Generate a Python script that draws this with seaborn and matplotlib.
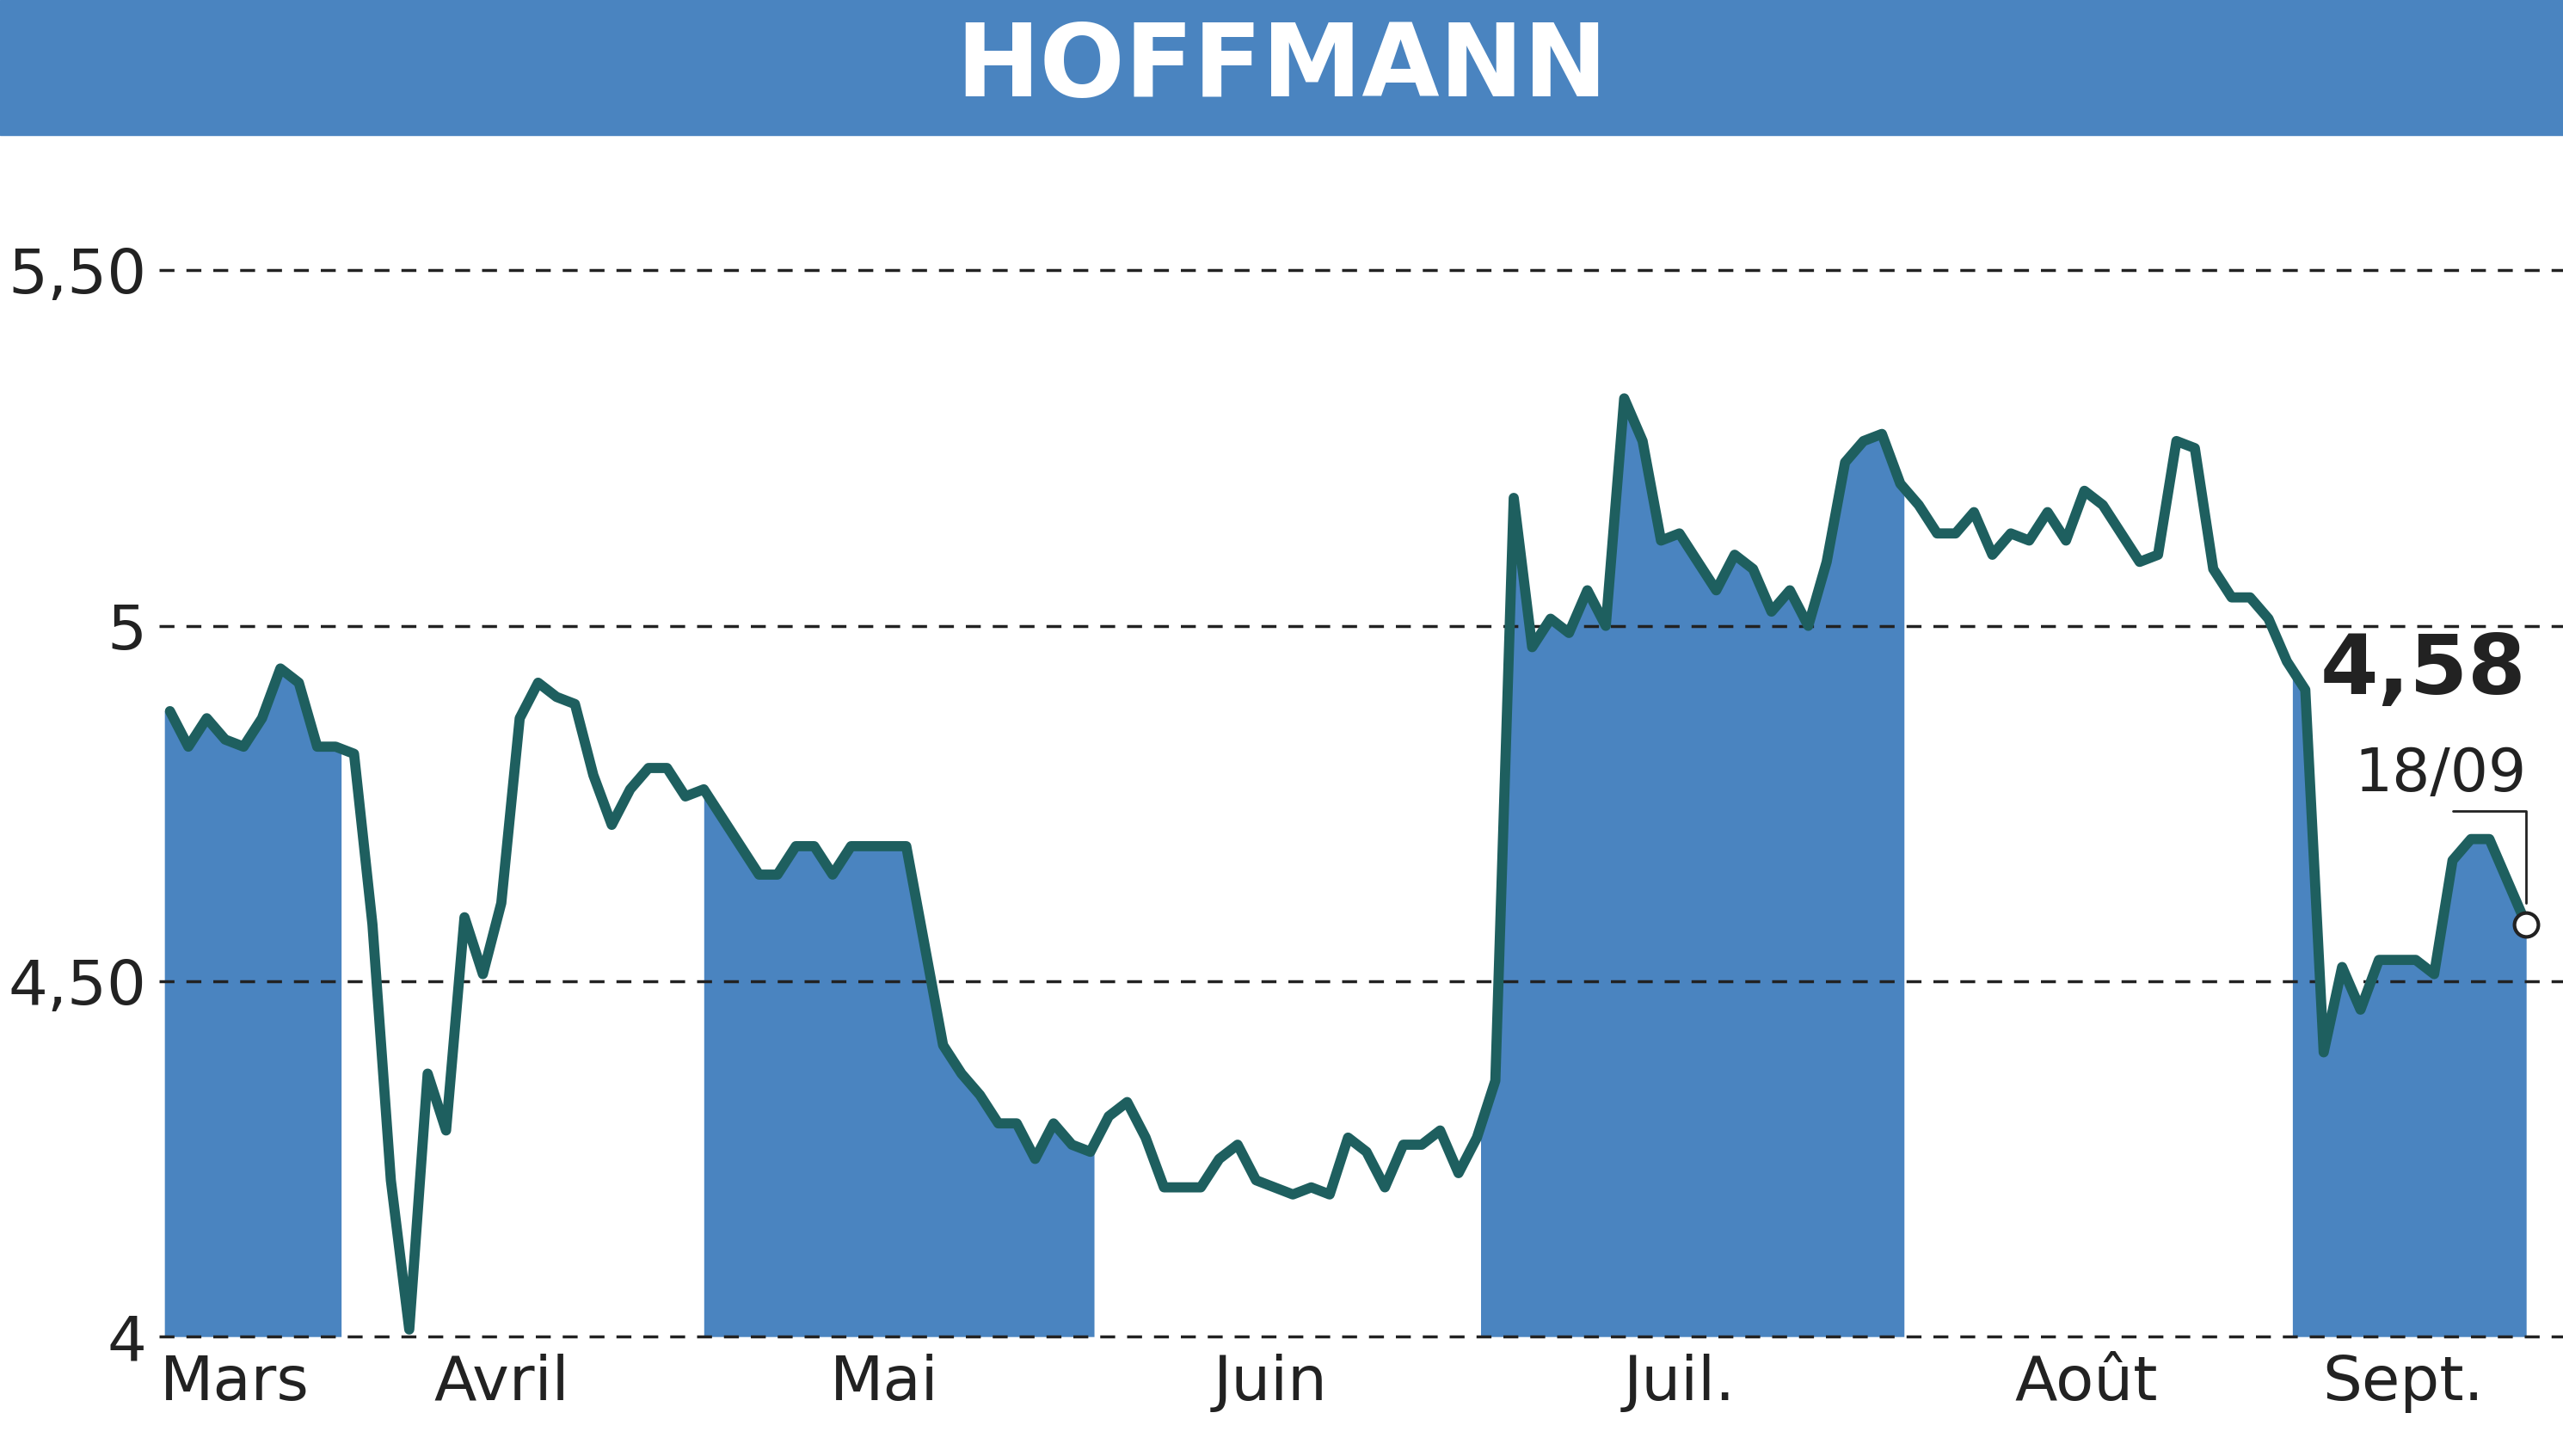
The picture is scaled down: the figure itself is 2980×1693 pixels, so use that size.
import numpy as np
import pandas as pd
import seaborn as sns
import matplotlib.pyplot as plt

prices = [4.88, 4.83, 4.87, 4.84, 4.83, 4.87, 4.94, 4.92, 4.83, 4.83, 4.82, 4.58, 4.22, 4.01, 4.37,
          4.29, 4.59, 4.51, 4.61, 4.87, 4.92, 4.90, 4.89, 4.79, 4.72, 4.77, 4.80, 4.80, 4.76, 4.77,
          4.73, 4.69, 4.65, 4.65, 4.69, 4.69, 4.65, 4.69, 4.69, 4.69, 4.69, 4.55, 4.41, 4.37, 4.34,
          4.30, 4.30, 4.25, 4.30, 4.27, 4.26, 4.31, 4.33, 4.28, 4.21, 4.21, 4.21, 4.25, 4.27, 4.22,
          4.21, 4.20, 4.21, 4.20, 4.28, 4.26, 4.21, 4.27, 4.27, 4.29, 4.23, 4.28, 4.36, 5.18, 4.97,
          5.01, 4.99, 5.05, 5.00, 5.32, 5.26, 5.12, 5.13, 5.09, 5.05, 5.10, 5.08, 5.02, 5.05, 5.00,
          5.09, 5.23, 5.26, 5.27, 5.20, 5.17, 5.13, 5.13, 5.16, 5.10, 5.13, 5.12, 5.16, 5.12, 5.19,
          5.17, 5.13, 5.09, 5.10, 5.26, 5.25, 5.08, 5.04, 5.04, 5.01, 4.95, 4.91, 4.40, 4.52, 4.46,
          4.53, 4.53, 4.53, 4.51, 4.67, 4.70, 4.70, 4.64, 4.58]
months = ['Mars', 'Avril', 'Mai', 'Juin', 'Juil.', 'Août', 'Sept.']
# month boundaries in trading-day index (start of each month)
month_starts = [-0.3, 9.3, 29.0, 50.2, 71.2, 94.2, 115.3]
shaded = [0, 2, 4, 6]
# label centres in trading-day index
label_pos = [3.5, 18.0, 38.8, 59.8, 82.0, 104.1, 121.3]
yticks = [4.0, 4.5, 5.0, 5.5]
ytick_labels = ['4', '4,50', '5', '5,50']

df = pd.DataFrame({'day': np.arange(len(prices)), 'price': prices})
n = len(prices)

sns.set_style('white')
plt.rcParams['font.family'] = ['DejaVu Sans']

blue = '#4a84c0'
line_c = '#1e5f5f'

fig = plt.figure(figsize=(29.8, 16.93), dpi=100)
# title bar
fig.patches.append(plt.Rectangle((0, 0.907), 1, 0.093, transform=fig.transFigure, color=blue, zorder=0))
fig.text(0.5, 0.953, 'HOFFMANN', color='white', fontsize=84, fontweight='bold', ha='center', va='center')

ax = fig.add_axes([0.062, 0.082, 0.938, 0.825])
ends = month_starts[1:] + [n - 1]
for m in shaded:
    a, b = month_starts[m], ends[m]
    xs = np.linspace(a, b, 200)
    ys = np.interp(xs, df['day'], df['price'])
    ax.fill_between(xs, 4.0, ys, color=blue, lw=0, zorder=1)

sns.lineplot(data=df, x='day', y='price', ax=ax, color=line_c, lw=8.5, zorder=3)
ax.plot(n - 1, prices[-1], 'o', ms=20, mfc='white', mec='#222222', mew=3, zorder=4)

for y in yticks:
    ax.axhline(y, color='#222222', lw=2.5, ls=(0, (5, 4)), zorder=2, clip_on=False)

ax.set_xlim(-0.6, n - 1 + 2.0)
ax.set_ylim(4.0, 5.69)
ax.set_yticks(yticks)
ax.set_yticklabels(ytick_labels)
ax.set_xticks(label_pos)
ax.set_xticklabels(months)
ax.tick_params(axis='both', labelsize=52, length=0, colors='#222222')
ax.tick_params(axis='y', pad=10)
ax.tick_params(axis='x', pad=14)
ax.set_xlabel('')
ax.set_ylabel('')
for s in ax.spines.values():
    s.set_visible(False)

ax.text(n - 1, 4.88, '4,58', fontsize=70, fontweight='bold', ha='right', va='bottom', color='#222222')
ax.text(n - 1, 4.75, '18/09', fontsize=50, ha='right', va='bottom', color='#222222')
ax.plot([n - 5, n - 1, n - 1], [4.74, 4.74, prices[-1] + 0.03], color='#222222', lw=2, zorder=4)

fig.savefig('out.png', dpi=100)
